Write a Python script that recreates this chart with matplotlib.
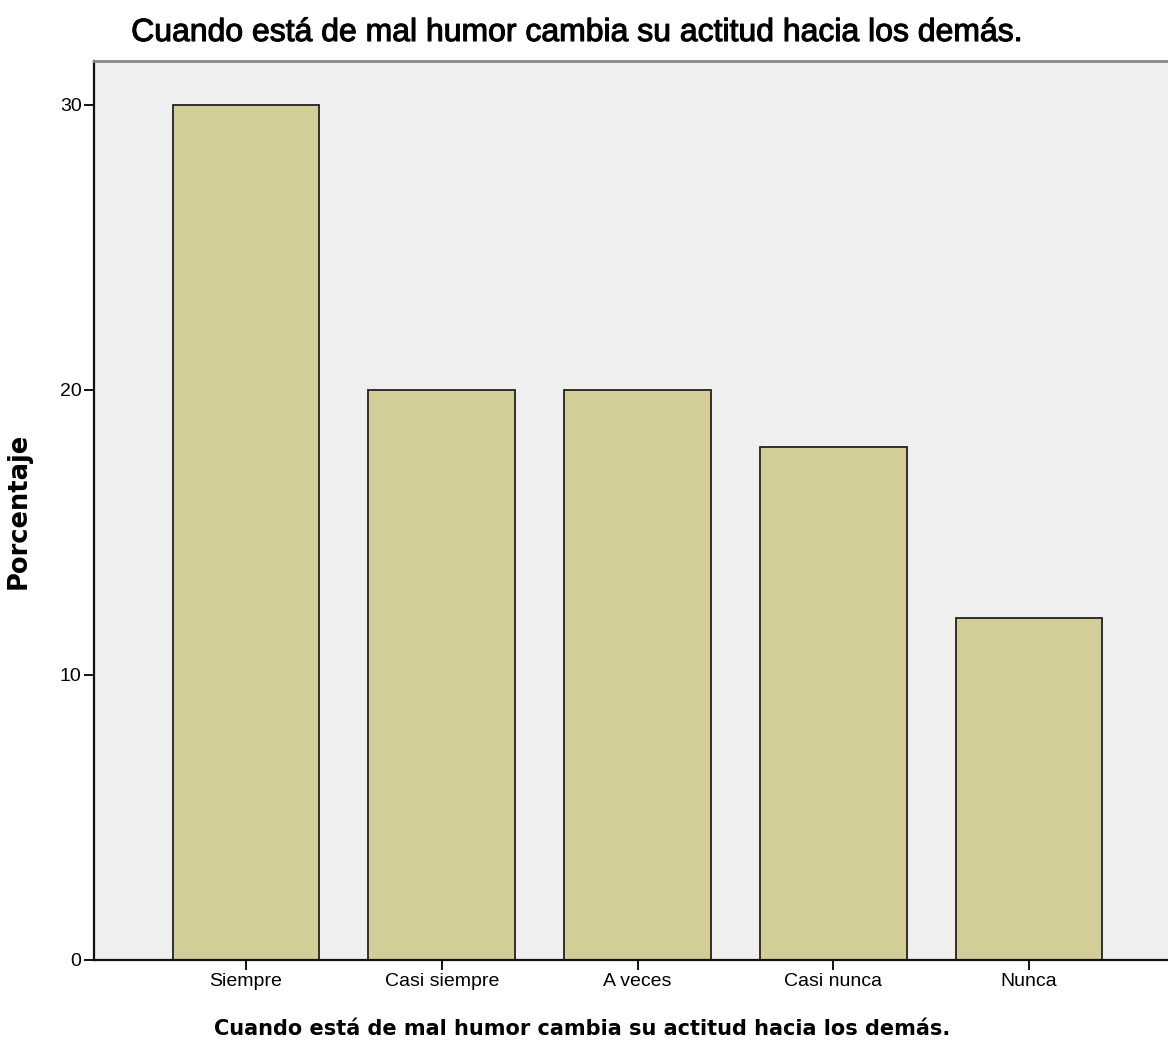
import matplotlib.pyplot as plt
import matplotlib.patheffects as pe

categorias = ["Siempre", "Casi siempre", "A veces", "Casi nunca", "Nunca"]
porcentaje = [30, 20, 20, 18, 12]
ticks_y = [0, 10, 20, 30]

titulo = "Cuando está de mal humor cambia su actitud hacia los demás."

fig = plt.figure(figsize=(11.68, 10.55), dpi=100)
# axes slightly wider than the figure: right edge is cut off like in the original
ax = fig.add_axes([94 / 1168, 95 / 1055, 1087 / 1168, 899 / 1055])
ax.set_facecolor("#efefef")

x = range(len(categorias))
ax.bar(x, porcentaje, width=0.75, color="#d3ce97", edgecolor="#222222", linewidth=1.3)

ax.set_xlim(-0.776, len(categorias) - 1 + 0.776)
ax.set_ylim(0, 31.54)
ax.set_xticks(list(x))
ax.set_xticklabels(categorias, fontsize=14, family="Liberation Sans")
ax.set_yticks(ticks_y)
ax.set_yticklabels([str(t) for t in ticks_y], fontsize=14, family="Liberation Sans")
ax.tick_params(axis="both", direction="out", length=7, width=1.3, pad=2)

for s in ["left", "bottom"]:
    ax.spines[s].set_linewidth(1.6)
    ax.spines[s].set_color("#111111")
ax.spines["top"].set_color("#888888")
ax.spines["top"].set_linewidth(2)
ax.spines["right"].set_visible(False)

ax.set_ylabel("Porcentaje", fontsize=18.5, fontweight="bold", family="DejaVu Sans")
ax.yaxis.set_label_coords(-0.057, 0.5)
ax.set_xlabel(titulo, fontsize=15, fontweight="bold", family="DejaVu Sans")
ax.xaxis.set_label_coords(0.449, -0.066)
t = fig.text(578 / 1168, 1 - 33 / 1055, titulo, ha="center", va="center",
             fontsize=23, family="Liberation Sans")
t.set_path_effects([pe.withStroke(linewidth=0.8, foreground="black")])

fig.savefig("out.png", dpi=100)
